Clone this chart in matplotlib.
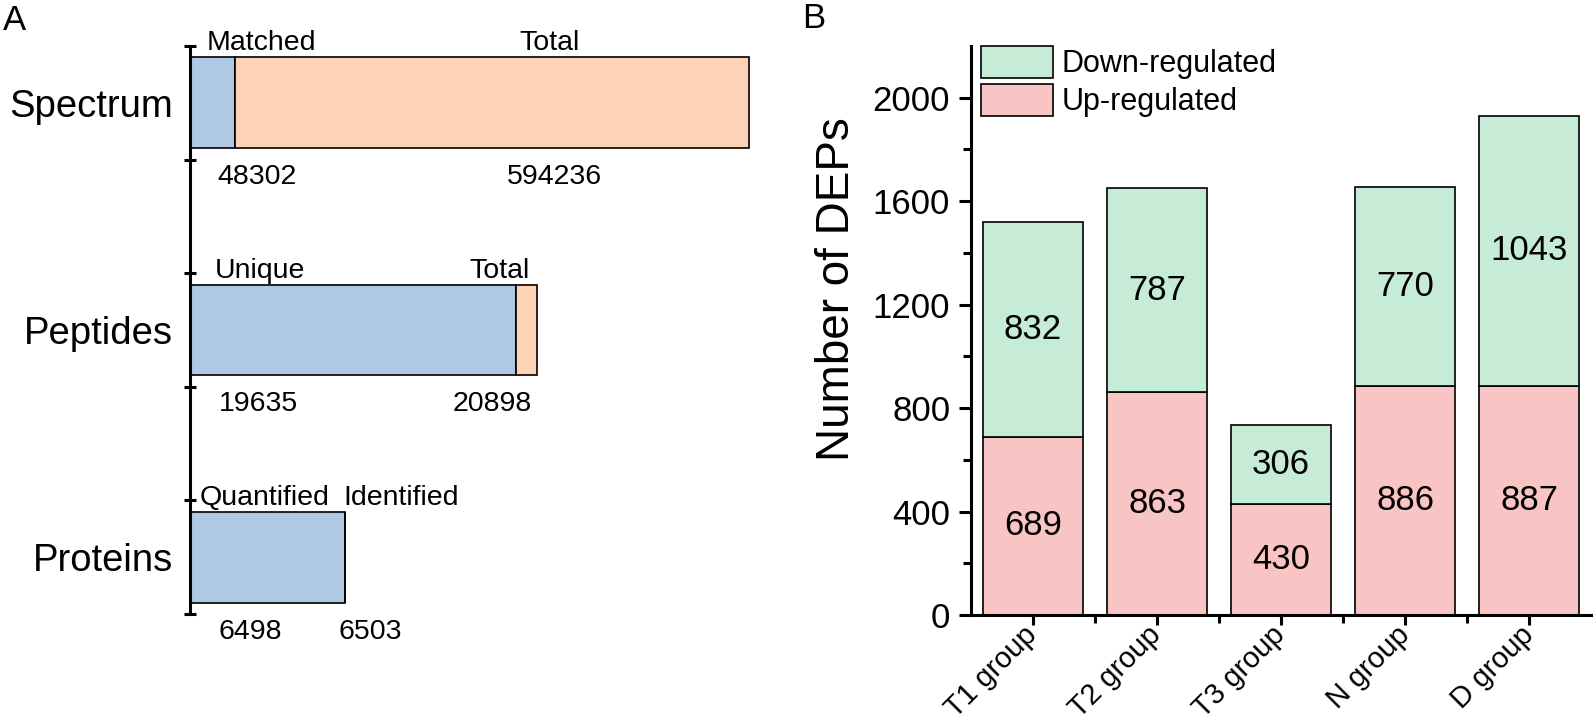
"""
Two-panel figure: (A) spectrum / peptide / protein counts, (B) DEPs per group
"""

import numpy as np
import matplotlib
matplotlib.use('Agg')
import matplotlib.pyplot as plt
from matplotlib.patches import Patch

plt.rcParams['font.family'] = ['Liberation Sans', 'DejaVu Sans']

# ---- Panel A data ----
a_rows = ['Spectrum', 'Peptides', 'Proteins']
a_first_names = ['Matched', 'Unique', 'Quantified']
a_second_names = ['Total', 'Total', 'Identified']
a_first_vals = [48302, 19635, 6498]
a_second_vals = [594236, 20898, 6503]

# ---- Panel B data ----
groups = ['T1 group', 'T2 group', 'T3 group', 'N group', 'D group']
up_vals = [689, 863, 430, 886, 887]
down_vals = [832, 787, 306, 770, 1043]

# colours
BLUE = '#AFC9E4'
PEACH = '#FDD3B6'
GREEN = '#C6ECD8'
PINK = '#F9C4C4'

W, H = 1594, 724


def panel_a(fig):
    ax = fig.add_axes([190 / W, (H - 614) / H, 570 / W, 568 / H])
    rows = np.arange(len(a_rows))
    px = 2.5 / 568  # one pixel in row units
    # each row drawn at its own length (px) so every bar is readable
    row_len = [559, 347, 155]
    first = np.array(a_first_vals) / np.array(a_second_vals) * np.array(row_len)
    rest = np.array(row_len) - first

    ax.barh(rows, first, height=0.4, color=BLUE, edgecolor='black', linewidth=1.2)
    ax.barh(rows, rest, left=first, height=0.4, color=PEACH, edgecolor='black', linewidth=1.2)

    ax.set_xlim(0, 570)
    ax.set_ylim(2.25, -0.25)
    for s in ['top', 'right', 'bottom']:
        ax.spines[s].set_visible(False)
    ax.spines['left'].set_linewidth(2.2)
    ax.set_xticks([])
    ax.set_yticks(rows)
    ax.set_yticklabels(a_rows, fontsize=27.5)
    ax.tick_params(axis='y', which='major', length=0, pad=12)
    bounds = sorted([r - 0.25 for r in rows] + [r + 0.25 for r in rows])
    ax.set_yticks(bounds, minor=True)
    ax.tick_params(axis='y', which='minor', direction='inout', length=9, width=2.2)

    # label placements (x offset from axis in px, alignment)
    top_pos = [[(17, 'left'), (359, 'center')],
               [(25, 'left'), (340, 'right')],
               [(10, 'left'), (153, 'left')]]
    num_pos = [[(27, 'left'), (364, 'center')],
               [(29, 'left'), (342, 'right')],
               [(28, 'left'), (148, 'left')]]
    for i, r in enumerate(rows):
        names = [a_first_names[i], a_second_names[i]]
        vals = [a_first_vals[i], a_second_vals[i]]
        for j in range(2):
            x, ha = top_pos[i][j]
            ax.text(x, r - 0.2 - 7 * px, names[j], ha=ha, va='baseline', fontsize=20.5)
            x, ha = num_pos[i][j]
            ax.text(x, r + 0.2 + 36 * px, str(vals[j]), ha=ha, va='baseline', fontsize=20.5)


def panel_b(fig):
    ax = fig.add_axes([971 / W, (H - 615) / H, 620 / W, 569 / H])
    x = np.arange(len(groups))
    up = np.array(up_vals)
    down = np.array(down_vals)

    ax.bar(x, up, width=0.8, color=PINK, edgecolor='black', linewidth=1.2, label='Up-regulated')
    ax.bar(x, down, bottom=up, width=0.8, color=GREEN, edgecolor='black', linewidth=1.2,
           label='Down-regulated')

    for i in range(len(x)):
        ax.text(x[i], up[i] / 2, str(up[i]), ha='center', va='center', fontsize=25)
        ax.text(x[i], up[i] + down[i] / 2, str(down[i]), ha='center', va='center', fontsize=25)

    ax.set_xlim(-0.5, len(groups) - 0.5)
    ax.set_ylim(0, 2200)
    ax.set_yticks(np.arange(0, 2001, 400))
    ax.set_yticks(np.arange(200, 2200, 400), minor=True)
    ax.set_xticks(x)
    ax.set_xticks(np.arange(0.5, len(groups) - 1, 1), minor=True)
    ax.set_xticklabels(groups, fontsize=21, rotation=45, ha='right', va='center',
                       rotation_mode='anchor')
    ax.tick_params(axis='y', labelsize=25, pad=6)
    ax.tick_params(which='major', direction='out', length=9, width=2.2)
    ax.tick_params(which='minor', direction='out', length=5.5, width=2.2)
    ax.tick_params(axis='x', which='major', length=7.5, pad=4)
    for s in ['top', 'right']:
        ax.spines[s].set_visible(False)
    for s in ['left', 'bottom']:
        ax.spines[s].set_linewidth(2.2)

    ax.set_ylabel('Number of DEPs', fontsize=33)
    ax.yaxis.set_label_coords(-0.18, 0.573)

    handles = [Patch(facecolor=GREEN, edgecolor='black', linewidth=1.2),
               Patch(facecolor=PINK, edgecolor='black', linewidth=1.2)]
    ax.legend(handles, ['Down-regulated', 'Up-regulated'], loc='upper left',
              bbox_to_anchor=(0.016, 1.0), frameon=False, fontsize=22,
              handlelength=2.35, handleheight=1.24, handletextpad=0.3,
              labelspacing=0.15, borderpad=0, borderaxespad=0)


def main():
    fig = plt.figure(figsize=(W / 100, H / 100), dpi=100)
    panel_a(fig)
    panel_b(fig)
    fig.text(3 / W, 1 - 30 / H, 'A', fontsize=25, va='baseline')
    fig.text(802 / W, 1 - 28 / H, 'B', fontsize=25, va='baseline')
    fig.savefig('out.png', dpi=100)
    plt.close(fig)


if __name__ == '__main__':
    main()
